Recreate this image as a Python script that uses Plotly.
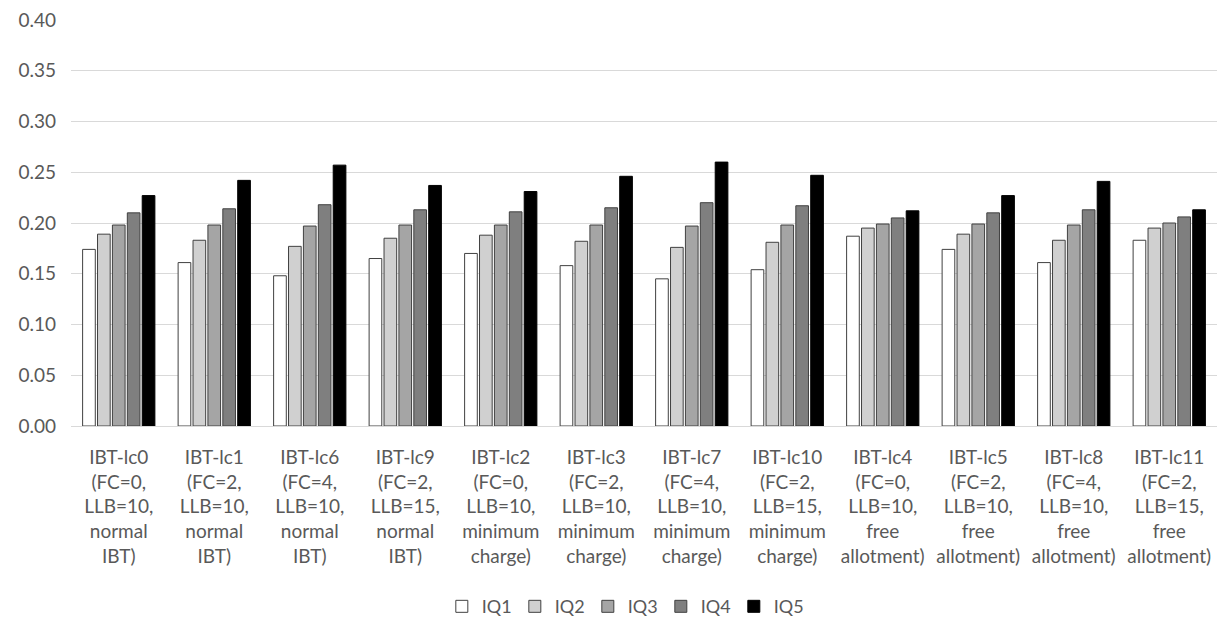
import plotly.graph_objects as go

categories = [
    "IBT-lc0<br>(FC=0,<br>LLB=10,<br>normal<br>IBT)",
    "IBT-lc1<br>(FC=2,<br>LLB=10,<br>normal<br>IBT)",
    "IBT-lc6<br>(FC=4,<br>LLB=10,<br>normal<br>IBT)",
    "IBT-lc9<br>(FC=2,<br>LLB=15,<br>normal<br>IBT)",
    "IBT-lc2<br>(FC=0,<br>LLB=10,<br>minimum<br>charge)",
    "IBT-lc3<br>(FC=2,<br>LLB=10,<br>minimum<br>charge)",
    "IBT-lc7<br>(FC=4,<br>LLB=10,<br>minimum<br>charge)",
    "IBT-lc10<br>(FC=2,<br>LLB=15,<br>minimum<br>charge)",
    "IBT-lc4<br>(FC=0,<br>LLB=10,<br>free<br>allotment)",
    "IBT-lc5<br>(FC=2,<br>LLB=10,<br>free<br>allotment)",
    "IBT-lc8<br>(FC=4,<br>LLB=10,<br>free<br>allotment)",
    "IBT-lc11<br>(FC=2,<br>LLB=15,<br>free<br>allotment)",
]

iq1 = [0.174, 0.161, 0.148, 0.165, 0.170, 0.158, 0.145, 0.154, 0.187, 0.174, 0.161, 0.183]
iq2 = [0.189, 0.183, 0.177, 0.185, 0.188, 0.182, 0.176, 0.181, 0.195, 0.189, 0.183, 0.195]
iq3 = [0.198, 0.198, 0.197, 0.198, 0.198, 0.198, 0.197, 0.198, 0.199, 0.199, 0.198, 0.200]
iq4 = [0.210, 0.214, 0.218, 0.213, 0.211, 0.215, 0.220, 0.217, 0.205, 0.210, 0.213, 0.206]
iq5 = [0.227, 0.242, 0.257, 0.237, 0.231, 0.246, 0.260, 0.247, 0.212, 0.227, 0.241, 0.213]

series = [
    ("IQ1", iq1, "#ffffff", "#404040"),
    ("IQ2", iq2, "#d0d0d0", "#404040"),
    ("IQ3", iq3, "#a5a5a5", "#404040"),
    ("IQ4", iq4, "#7f7f7f", "#404040"),
    ("IQ5", iq5, "#000000", "#000000"),
]

font_family = "Lato, 'Open Sans', sans-serif"
text_color = "#595959"

fig = go.Figure()
for name, vals, fill, edge in series:
    fig.add_trace(go.Bar(
        name=name,
        x=categories,
        y=vals,
        marker=dict(color=fill, line=dict(color=edge, width=1)),
    ))

fig.update_layout(
    width=1217,
    height=619,
    margin=dict(l=71, r=0, t=20, b=193),
    paper_bgcolor="white",
    plot_bgcolor="white",
    barmode="group",
    bargap=0.22,
    bargroupgap=0.15,
    font=dict(family=font_family, size=19, color=text_color),
    legend=dict(
        orientation="h",
        xref="container",
        x=0.513,
        xanchor="center",
        yref="container",
        y=0.02,
        yanchor="middle",
        font=dict(size=18, color=text_color),
        itemwidth=30,
        entrywidth=28,
        traceorder="normal",
    ),
    showlegend=True,
)

fig.update_yaxes(
    range=[0, 0.40],
    dtick=0.05,
    tickformat=".2f",
    showgrid=True,
    gridcolor="#d9d9d9",
    gridwidth=1,
    zeroline=True,
    zerolinecolor="#d9d9d9",
    zerolinewidth=1,
    showline=False,
    ticks="",
    ticklabelstandoff=14,
    tickfont=dict(size=19, color=text_color),
)

fig.update_xaxes(
    showgrid=False,
    showline=True,
    linecolor="#d9d9d9",
    linewidth=1,
    ticks="",
    ticklabelstandoff=14,
    tickangle=0,
    tickfont=dict(size=19, color=text_color),
)

fig.write_html("out.html")
